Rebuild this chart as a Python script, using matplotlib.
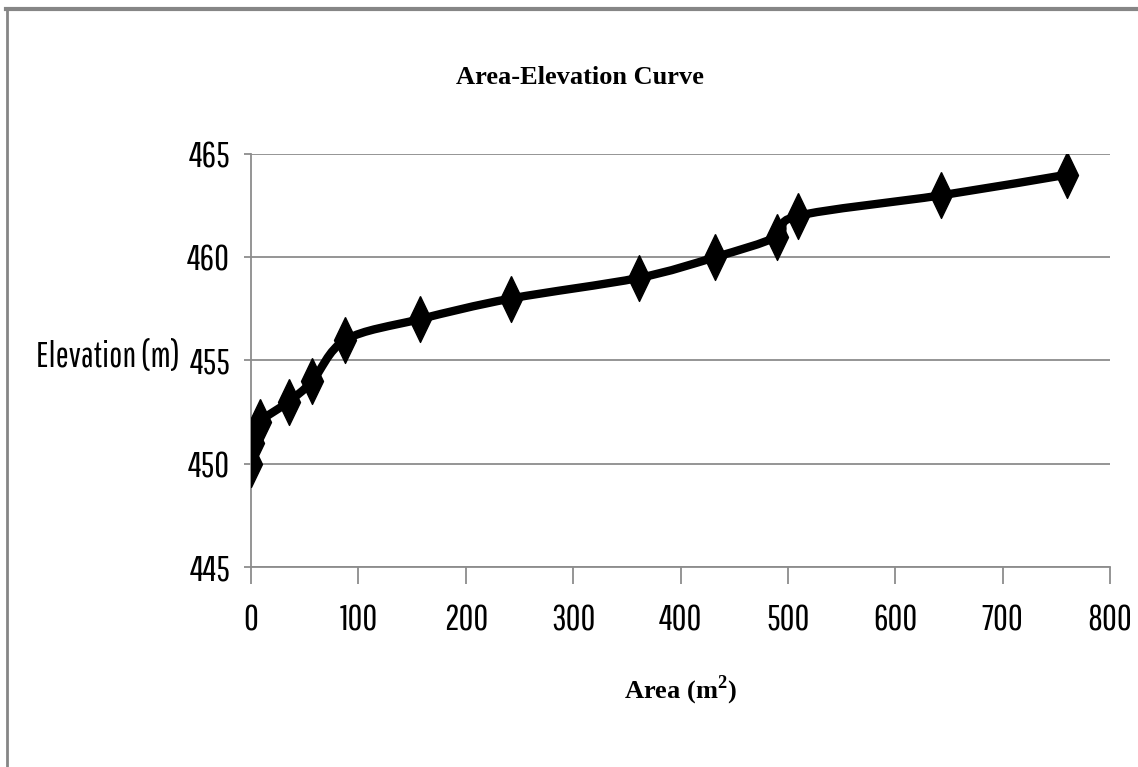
import matplotlib
matplotlib.use("Agg")
import matplotlib.pyplot as plt
from matplotlib.path import Path
from matplotlib.patches import PathPatch
import numpy as np

area = [0, 2, 8, 35, 57, 88, 157, 242, 361, 432, 490, 509, 643, 760]
elevation = [450, 451, 452, 453, 454, 456, 457, 458, 459, 460, 461, 462, 463, 464]
x_ticks = [0, 100, 200, 300, 400, 500, 600, 700, 800]
y_ticks = [445, 450, 455, 460, 465]
title = "Area-Elevation Curve"
xlabel = "Area (m$^\\mathregular{2}$)"
ylabel = "Elevation (m)"

narrow = ["Pathway Gothic One", "PT Sans Narrow", "DejaVu Sans"]
serif = ["Liberation Serif", "DejaVu Serif"]

fig = plt.figure(figsize=(11.38, 7.67), dpi=100)
ax = fig.add_axes([251/1138, 1-567/767, (1110-251)/1138, (567-154)/767])

# figure border (top and left visible)
fig.add_artist(plt.Line2D([6/1138, 1], [1-9/767, 1-9/767], transform=fig.transFigure, color="#868686", lw=3))
fig.add_artist(plt.Line2D([7/1138, 7/1138], [0, 1-9/767], transform=fig.transFigure, color="#868686", lw=2))

# Excel-like smooth curve (Bezier through points)
x = np.array(area, float)
y = np.array(elevation, float)
n = len(x)
verts = [(x[0], y[0])]
codes = [Path.MOVETO]
for i in range(n-1):
    p0 = np.array([x[max(i-1, 0)], y[max(i-1, 0)]])
    p1 = np.array([x[i], y[i]])
    p2 = np.array([x[i+1], y[i+1]])
    p3 = np.array([x[min(i+2, n-1)], y[min(i+2, n-1)]])
    c1 = p1 + (p2 - p0) / 6
    c2 = p2 - (p3 - p1) / 6
    verts += [tuple(c1), tuple(c2), tuple(p2)]
    codes += [Path.CURVE4]*3
ax.add_patch(PathPatch(Path(verts, codes), facecolor="none", edgecolor="black", lw=6, zorder=3, capstyle="round", joinstyle="round"))

diamond = [(0, 1), (0.48, 0), (0, -1), (-0.48, 0), (0, 1)]
ax.plot(area, elevation, linestyle="none", marker=diamond, markersize=33, color="black", zorder=4)

ax.set_xlim(0, 800)
ax.set_ylim(445, 465)
ax.set_xticks(x_ticks)
ax.set_yticks(y_ticks)
ax.set_xticklabels([str(v) for v in x_ticks], family=narrow, fontsize=26)
ax.set_yticklabels([str(v) for v in y_ticks], family=narrow, fontsize=26)
ax.yaxis.grid(True, color="#8c8c8c", lw=1.3)
ax.set_axisbelow(True)
for s in ["top", "right"]:
    ax.spines[s].set_visible(False)
for s in ["left", "bottom"]:
    ax.spines[s].set_color("#8c8c8c")
    ax.spines[s].set_linewidth(1.3)
ax.tick_params(axis="x", color="#8c8c8c", width=1.3, length=12, pad=14)
ax.tick_params(axis="y", color="#8c8c8c", width=1.3, length=5, pad=10)

fig.text(580/1138, 1-78/767, title, family=serif, fontweight="bold", fontsize=19, ha="center", va="center")
fig.text(680/1138, 1-690/767, xlabel, family=serif, fontweight="bold", fontsize=19, ha="center", va="center")
fig.text(108/1138, 1-357/767, ylabel, family=narrow, fontsize=25, ha="center", va="center")

fig.savefig("out.png", dpi=100, facecolor="white")
